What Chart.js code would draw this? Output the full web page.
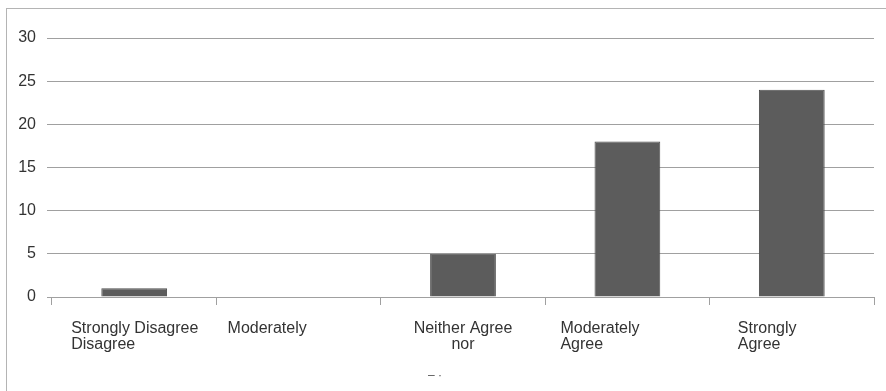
<!DOCTYPE html>
<html>
<head>
<meta charset="utf-8">
<script src="https://cdn.jsdelivr.net/npm/chart.js@4.4.1/dist/chart.umd.min.js"></script>
<style>
    html, body { margin: 0; padding: 0; background: #fff; overflow: hidden; }
    #wrap { position: relative; width: 886px; height: 391px; }
    #frame {
        position: absolute; left: 6px; top: 8px;
        width: 1000px; height: 1000px;
        border: 1px solid #b4b4b4;
    }
    #chart { position: absolute; left: 0; top: 0; }
    #stray {
        position: absolute; left: 428px; top: 368px;
        font: 12px "Liberation Sans", Arial, sans-serif; color: #555;
    }
</style>
</head>
<body>
<div id="wrap">
    <div id="frame"></div>
    <canvas id="chart" width="886" height="391"></canvas>
    <span id="stray">– ·</span>
</div>
<script>
// Data
const categories = [
    ['Strongly Disagree', 'Disagree'],
    ['Moderately'],
    ['Neither Agree', 'nor'],
    ['Moderately', 'Agree'],
    ['Strongly', 'Agree']
];
const responses = [1, 0, 5, 18, 24];
const yTicks = [0, 5, 10, 15, 20, 25, 30];

// label placement relative to category centre (dx, alignment)
const labelLayout = [
    { dx: -63, align: 'left' },
    { dx: -71, align: 'left' },
    { dx: 0, align: 'center' },
    { dx: -67, align: 'left' },
    { dx: -54, align: 'left' }
];

const fontFamily = '"Liberation Sans", Arial, sans-serif';
const textColor = '#333333';
const gridColor = '#a0a0a0';

const categoryLabels = {
    id: 'categoryLabels',
    afterDraw(chart) {
        const ctx = chart.ctx;
        const xScale = chart.scales.x;
        const base = chart.chartArea.bottom;
        ctx.save();
        ctx.font = '16px ' + fontFamily;
        ctx.fillStyle = textColor;
        ctx.textBaseline = 'alphabetic';
        categories.forEach((lines, i) => {
            const cx = xScale.getPixelForValue(i) + labelLayout[i].dx;
            ctx.textAlign = labelLayout[i].align;
            lines.forEach((line, j) => {
                ctx.fillText(line, cx, base + 36 + j * 16);
            });
        });
        ctx.restore();
    }
};

new Chart(document.getElementById('chart'), {
    type: 'bar',
    data: {
        labels: categories.map(c => c.join(' ')),
        datasets: [{
            data: responses,
            backgroundColor: '#5c5c5c',
            borderColor: '#4e4e4e',
            borderWidth: 1,
            categoryPercentage: 1,
            barPercentage: 0.4
        }]
    },
    options: {
        responsive: false,
        animation: false,
        layout: { padding: { top: 38, right: 12, left: 0, bottom: 0 } },
        plugins: {
            legend: { display: false },
            tooltip: { enabled: false }
        },
        scales: {
            x: {
                offset: true,
                afterFit(scale) { scale.height = 94; },
                grid: {
                    offset: true,
                    drawOnChartArea: false,
                    drawTicks: true,
                    tickLength: 8,
                    color: gridColor
                },
                border: { display: true, color: gridColor },
                ticks: { display: false }
            },
            y: {
                min: 0,
                max: 30,
                afterBuildTicks(scale) { scale.ticks = yTicks.map(v => ({ value: v })); },
                afterFit(scale) { scale.width = 52; },
                grid: {
                    color: gridColor,
                    tickLength: 5,
                    drawTicks: true
                },
                border: { display: false },
                ticks: {
                    padding: 11,
                    color: textColor,
                    font: { size: 16, family: fontFamily }
                }
            }
        }
    },
    plugins: [categoryLabels]
});
</script>
</body>
</html>
